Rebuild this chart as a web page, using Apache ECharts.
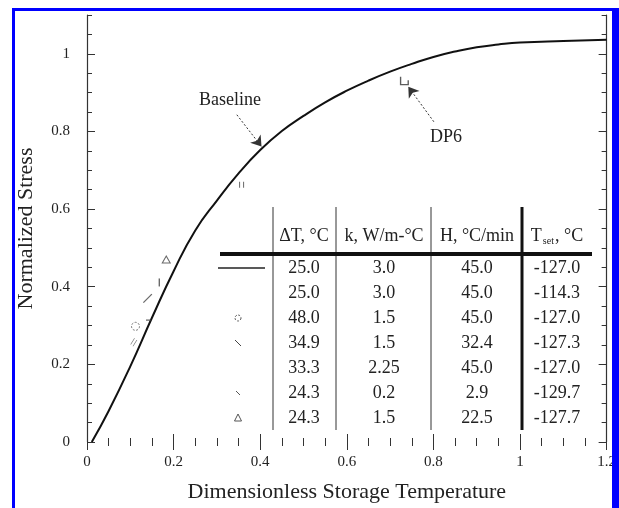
<!DOCTYPE html>
<html>
<head>
<meta charset="utf-8">
<script src="https://cdn.jsdelivr.net/npm/echarts@6/dist/echarts.min.js"></script>
<style>
html, body { margin: 0; padding: 0; background: #fff; }
#main { width: 619px; height: 508px; }
</style>
</head>
<body>
<div id="main"></div>
<script>
// baseline curve
const baseX = [0.011, 0.05, 0.1, 0.15, 0.2, 0.25, 0.3, 0.35, 0.4, 0.45, 0.5, 0.55, 0.6, 0.65, 0.7, 0.75, 0.8, 0.85, 0.9, 0.95, 1.0, 1.1, 1.2];
const baseY = [0, 0.08, 0.195, 0.32, 0.44, 0.545, 0.622, 0.692, 0.752, 0.801, 0.84, 0.875, 0.905, 0.931, 0.954, 0.974, 0.992, 1.006, 1.017, 1.024, 1.029, 1.033, 1.036];

// individual data points (DP runs)
const ptNames = ['tri', 'bar', 'slash', 'tick', 'circle', 'dbl', 'pair', 'dp6'];
const ptX = [0.183, 0.167, 0.140, 0.142, 0.112, 0.108, 0.357, 0.733];
const ptY = [0.470, 0.411, 0.370, 0.314, 0.298, 0.257, 0.663, 0.930];

// annotation arrows [from, to]
const baselineArrow = [[0.346, 0.843], [0.403, 0.761]];
const dp6Arrow = [[0.801, 0.825], [0.742, 0.915]];

// table
const colHeaders = ['ΔT, °C', 'k, W/m-°C', 'H, °C/min', '{a|T}{s|set}{a|, °C}'];
const dT = ['25.0', '25.0', '48.0', '34.9', '33.3', '24.3', '24.3'];
const kVal = ['3.0', '3.0', '1.5', '1.5', '2.25', '0.2', '1.5'];
const hRate = ['45.0', '45.0', '45.0', '32.4', '45.0', '2.9', '22.5'];
const tSet = ['-127.0', '-114.3', '-127.0', '-127.3', '-127.0', '-129.7', '-127.7'];

const yMajors = [0, 0.2, 0.4, 0.6, 0.8, 1];

const serif = 'Liberation Serif';
const ink = '#222';

const chart = echarts.init(document.getElementById('main'));

const markStyle = {
    tri: {symbol: 'triangle', symbolSize: [8, 7], itemStyle: {color: '#fff', borderColor: '#444', borderWidth: 1}},
    bar: {symbol: 'rect', symbolSize: [1.4, 8], itemStyle: {color: '#444'}},
    slash: {symbol: 'rect', symbolSize: [1.3, 12], symbolRotate: -45, itemStyle: {color: '#444'}},
    tick: {symbol: 'rect', symbolSize: [5, 1.3], itemStyle: {color: '#444'}},
    circle: {symbol: 'circle', symbolSize: 8, itemStyle: {color: '#fff', borderColor: '#555', borderWidth: 1, borderType: [2, 1.5]}},
    dbl: {symbol: 'path://M0,7L5,0L6,0L1,7Z M3,9L8,2L9,2L4,9Z', symbolSize: [7, 8], itemStyle: {color: '#555'}},
    pair: {symbol: 'path://M0,0h1v6h-1z M4,0h1v6h-1z', symbolSize: [5, 6], itemStyle: {color: '#444'}},
    dp6: {symbol: 'path://M0,0h1.3v7h6v-3.5h1.3v4.8h-8.6z', symbolSize: [9, 8.5], itemStyle: {color: '#333'}}
};

const pointSeries = ptNames.map((n, i) => Object.assign({
    type: 'scatter',
    silent: true,
    z: 4,
    data: [[ptX[i], ptY[i]]]
}, markStyle[n]));

function yAxes(pos, withName) {
    return [{
        type: 'value', position: pos, min: 0, max: 1.1, interval: 0.05,
        name: withName ? 'Normalized Stress' : '',
        nameLocation: 'middle', nameGap: 50,
        nameTextStyle: {fontFamily: serif, fontSize: 22, color: ink},
        axisLine: {show: true, lineStyle: {color: '#333', width: 1.2}},
        axisTick: {inside: true, length: 5, lineStyle: {color: '#333'}},
        axisLabel: {show: false},
        splitLine: {show: false}
    }, {
        type: 'value', position: pos, min: 0, max: 1.1,
        axisLine: {show: false},
        axisTick: {inside: true, length: 8, customValues: yMajors, lineStyle: {color: '#333'}},
        axisLabel: {show: withName, customValues: yMajors, fontFamily: serif, fontSize: 15, color: ink, margin: 17},
        splitLine: {show: false}
    }];
}

function xAxis(pos, withName) {
    return {
        type: 'value', position: pos, min: 0, max: 1.2, interval: 0.2,
        name: withName ? 'Dimensionless Storage Temperature' : '',
        nameLocation: 'middle', nameGap: 39,
        nameTextStyle: {fontFamily: serif, fontSize: 22, color: ink},
        axisLine: {show: false},
        axisTick: {inside: true, length: 8, lineStyle: {color: '#333'}},
        minorTick: {show: true, splitNumber: 4, length: 4, lineStyle: {color: '#333'}},
        axisLabel: {show: withName, fontFamily: serif, fontSize: 15, color: ink, margin: 13},
        splitLine: {show: false}
    };
}

// table drawn as graphic overlay
const table = [];
const colX = [304, 384, 477, 557];
const rowY0 = 268, rowStep = 25;
[273, 336, 431].forEach(x => table.push({
    type: 'line', shape: {x1: x, y1: 207, x2: x, y2: 430}, style: {stroke: '#333', lineWidth: 1}
}));
table.push({type: 'line', shape: {x1: 522, y1: 207, x2: 522, y2: 430}, style: {stroke: '#111', lineWidth: 3}});
table.push({type: 'line', shape: {x1: 220, y1: 254, x2: 592, y2: 254}, style: {stroke: '#111', lineWidth: 4}});

function cell(txt, x, y) {
    return {
        type: 'text', x: x, y: y,
        style: {
            text: txt, fill: ink, font: '18px ' + serif,
            align: 'center', verticalAlign: 'middle', textAlign: 'center', textVerticalAlign: 'middle',
            rich: {
                a: {fontFamily: serif, fontSize: 18, color: ink, lineHeight: 20},
                s: {fontFamily: serif, fontSize: 10, color: ink, lineHeight: 20, verticalAlign: 'bottom', padding: [10, 1, 0, 1]}
            }
        }
    };
}
colHeaders.forEach((h, i) => table.push(cell(h, colX[i], 236)));
[dT, kVal, hRate, tSet].forEach((col, c) => {
    col.forEach((v, r) => table.push(cell(v, colX[c], rowY0 + r * rowStep)));
});

// legend keys in the first column
table.push({type: 'line', shape: {x1: 218, y1: rowY0, x2: 265, y2: rowY0}, style: {stroke: '#222', lineWidth: 1.3}});
table.push({type: 'circle', shape: {cx: 238, cy: rowY0 + 2 * rowStep, r: 3}, style: {stroke: '#555', fill: null, lineWidth: 1, lineDash: [2, 1.5]}});
table.push({type: 'line', shape: {x1: 235, y1: rowY0 + 3 * rowStep - 3, x2: 241, y2: rowY0 + 3 * rowStep + 3}, style: {stroke: '#444', lineWidth: 1}});
table.push({type: 'line', shape: {x1: 236, y1: rowY0 + 5 * rowStep - 2, x2: 240, y2: rowY0 + 5 * rowStep + 2}, style: {stroke: '#555', lineWidth: 1}});
table.push({type: 'polygon', shape: {points: [[238, rowY0 + 6 * rowStep - 4], [234.5, rowY0 + 6 * rowStep + 3], [241.5, rowY0 + 6 * rowStep + 3]]}, style: {stroke: '#555', fill: null, lineWidth: 1}});

// annotation labels
table.push({type: 'text', x: 230, y: 100, style: {text: 'Baseline', font: '18px ' + serif, fill: ink, align: 'center', verticalAlign: 'middle', textAlign: 'center', textVerticalAlign: 'middle'}});
table.push({type: 'text', x: 446, y: 137, style: {text: 'DP6', font: '18px ' + serif, fill: ink, align: 'center', verticalAlign: 'middle', textAlign: 'center', textVerticalAlign: 'middle'}});

// blue scan frame
const frame = [
    {type: 'rect', z: 100, shape: {x: 12, y: 8, width: 3, height: 510}, style: {fill: '#0000ff'}},
    {type: 'rect', z: 100, shape: {x: 12, y: 8, width: 610, height: 3}, style: {fill: '#0000ff'}},
    {type: 'rect', z: 100, shape: {x: 612, y: 8, width: 10, height: 510}, style: {fill: '#0000ff'}}
];

chart.setOption({
    animation: false,
    backgroundColor: '#fff',
    grid: {left: 87, right: 8, top: 15, bottom: 65, containLabel: false},
    xAxis: [xAxis('bottom', true), xAxis('top', false)],
    yAxis: yAxes('left', true).concat(yAxes('right', false)),
    series: [{
        type: 'line',
        data: baseX.map((x, i) => [x, baseY[i]]),
        smooth: 0.5,
        symbol: 'none',
        lineStyle: {color: '#111', width: 2},
        z: 3,
        markLine: {
            silent: true,
            symbol: ['none', 'arrow'],
            symbolSize: 10,
            label: {show: false},
            lineStyle: {color: '#333', width: 1, type: [2, 2]},
            data: [
                [{coord: baselineArrow[0]}, {coord: baselineArrow[1]}],
                [{coord: dp6Arrow[0]}, {coord: dp6Arrow[1]}]
            ]
        }
    }].concat(pointSeries),
    graphic: table.concat(frame)
});
</script>
</body>
</html>
